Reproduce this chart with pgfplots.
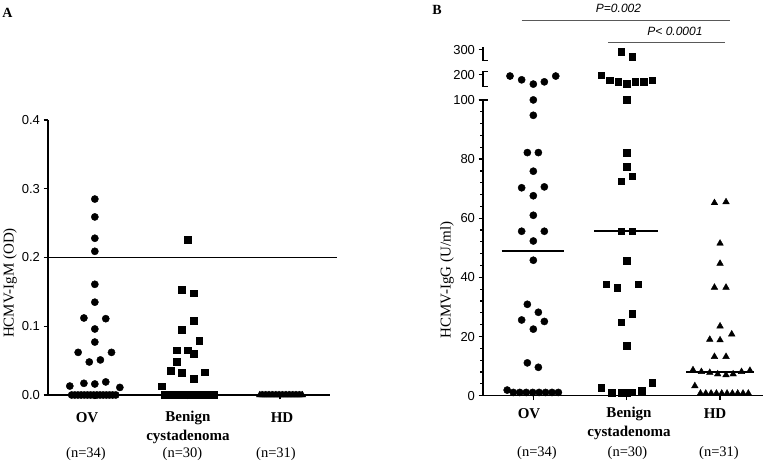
\documentclass[border=0pt]{standalone}
\usepackage{fontspec}
\setmainfont{Liberation Serif}
\setsansfont{Liberation Sans}
\usepackage{pgfplots}
\pgfplotsset{compat=1.18}

\newcommand{\tickfont}{\sffamily\fontsize{13}{13}\selectfont}
\newcommand{\catfont}{\rmfamily\bfseries\fontsize{15}{15}\selectfont}
\newcommand{\nfont}{\rmfamily\fontsize{14.5}{14.5}\selectfont}
\newcommand{\labfont}{\rmfamily\fontsize{15}{15}\selectfont}

\pgfplotsset{
  scat/.style={only marks, black, mark options={fill=black, draw=black}},
  panel/.style={
    scale only axis, anchor=south west, clip=false,
    axis x line*=bottom, axis y line*=left,
    axis line style={line width=1.6pt},
    tick align=outside, major tick length=4.5pt, minor tick length=3pt,
    tick style={black, line width=1.4pt},
    minor tick style={black, line width=1.2pt},
    xtick={1,2,3}, xticklabels={},
    yticklabel style={font=\tickfont},
  },
}

\begin{document}
\begin{tikzpicture}
\path[use as bounding box] (0,0) rectangle (769pt,462pt);

% ---------------- panel A: IgM
\begin{axis}[panel,
  at={(48pt,67pt)}, width=282pt, height=275pt,
  xmin=0.4946, xmax=3.538, ymin=0, ymax=0.4,
  ytick={0,0.1,0.2,0.3,0.4}, yticklabels={0.0,0.1,0.2,0.3,0.4},
]
\addplot[black, line width=1.1pt] coordinates {(0.4946,0.2) (3.613,0.2)};
% OV
\addplot[scat, mark=*, mark size=3.6pt] coordinates {
 (1,0.285) (1,0.259) (1,0.228) (1,0.209) (1,0.161) (1,0.135)
 (0.882,0.112) (1.118,0.111) (1,0.096) (1,0.077)
 (0.82,0.062) (1.06,0.051) (1.18,0.062) (0.94,0.048)
 (0.73,0.013) (0.882,0.017) (1,0.016) (1.118,0.019) (1.27,0.011)
 (0.750,0) (0.784,0) (0.818,0) (0.852,0) (0.886,0) (0.920,0) (0.954,0) (0.988,0)
 (1.022,0) (1.056,0) (1.090,0) (1.124,0) (1.158,0) (1.192,0) (1.226,0)};
% Benign cystadenoma
\addplot[scat, mark=square*, mark size=3.3pt] coordinates {
 (2,0.226) (1.94,0.153) (2.065,0.148) (2.065,0.108) (1.94,0.095) (2.125,0.079)
 (1.882,0.065) (2,0.065) (2.065,0.060) (1.882,0.048) (1.82,0.035) (1.94,0.032)
 (2.186,0.033) (2.065,0.024) (1.724,0.013)
 (1.750,0) (1.788,0) (1.826,0) (1.864,0) (1.902,0) (1.940,0) (1.978,0) (2.016,0)
 (2.054,0) (2.092,0) (2.130,0) (2.168,0) (2.206,0) (2.244,0) (2.282,0)};
% HD
\addplot[scat, mark=triangle*, mark size=3.8pt] coordinates {
 (2.780,0) (2.795,0) (2.811,0) (2.826,0) (2.841,0) (2.857,0) (2.872,0) (2.887,0)
 (2.903,0) (2.918,0) (2.933,0) (2.949,0) (2.964,0) (2.979,0) (2.995,0) (3.010,0)
 (3.025,0) (3.041,0) (3.056,0) (3.071,0) (3.087,0) (3.102,0) (3.117,0) (3.133,0)
 (3.148,0) (3.163,0) (3.179,0) (3.194,0) (3.209,0) (3.225,0) (3.240,0)};
\end{axis}

% ---------------- panel B: IgG (broken axis above 100)
\begin{axis}[panel,
  at={(483pt,66.3pt)}, width=280pt, height=349pt,
  xmin=0.461, xmax=3.46, ymin=0, ymax=118,
  y axis line style={draw=none},
  y filter/.expression={y>100 ? 100+(y-100)*0.085 : y},
  ytick={0,20,40,60,80,100,108.5,117},
  yticklabels={0,20,40,60,80,100,200,300},
  minor ytick={4,8,...,96},
]
% OV
\addplot[scat, mark=*, mark size=3.6pt] coordinates {
 (0.75,195) (0.875,180) (1,163) (1.118,172) (1.24,195)
 (1,100) (1,94.8) (0.936,82.2) (1.054,82.2) (1,75.9) (0.875,70.3) (1.118,70.6)
 (1,67.6) (1,61.0) (0.875,55.6) (1.118,55.6) (1,52.3) (1,45.8) (0.936,30.9)
 (1.054,28.2) (0.875,25.6) (1.118,25.1) (1,22.5) (0.936,11.1) (1.054,9.6) (0.72,1.9)
 (0.786,1.1) (0.855,1.1) (0.924,1.1) (0.993,1.1) (1.062,1.1) (1.131,1.1) (1.200,1.1) (1.268,1.1)};
% Benign cystadenoma
\addplot[scat, mark=square*, mark size=3.3pt] coordinates {
 (1.94,291) (2.06,271) (1.725,198) (1.82,178) (1.91,172) (2,165) (2.09,172) (2.18,172) (2.275,178)
 (2,100) (2,82.2) (2,77.4) (2.06,74.2) (1.94,72.5)
 (1.94,55.6) (2.06,55.6) (2,45.6) (1.78,37.7) (1.9,36.6) (2.125,37.7) (2.06,27.8)
 (1.94,24.8) (2,17.0)
 (1.725,2.8) (1.84,1.0) (1.94,1.0) (2.0,1.0) (2.06,1.2) (2.16,1.6) (2.275,4.4)};
% HD
\addplot[scat, mark=triangle*, mark size=3.8pt] coordinates {
 (2.94,65.2) (3.064,65.5) (3,51.5) (3,44.7) (2.94,36.6) (3.064,36.6) (3,23.5)
 (2.89,19.0) (3,18.8) (3.125,20.8) (2.94,13.2) (3.064,13.2)
 (2.71,8.7) (2.80,8.1) (2.89,7.8) (2.975,7.3) (3.064,7.0) (3.14,7.3) (3.23,8.1) (3.32,8.5)
 (2.73,3.3)
 (2.790,0.8) (2.847,0.8) (2.904,0.8) (2.961,0.8) (3.018,0.8) (3.075,0.8) (3.132,0.8)
 (3.189,0.8) (3.246,0.8) (3.303,0.8)};
% medians
\addplot[black, line width=1.8pt] coordinates {(0.66,49.0) (1.33,49.0)};
\addplot[black, line width=1.8pt] coordinates {(1.65,55.7) (2.33,55.7)};
\addplot[black, line width=1.8pt] coordinates {(2.64,8.1) (3.36,8.1)};
% y axis drawn by hand with the break marks
\draw[line width=1.6pt] (axis cs:0.461,0) -- (axis cs:0.461,100);
\draw[line width=1.4pt] ([xshift=-4.5pt]axis cs:0.461,100) -- ([xshift=4.5pt]axis cs:0.461,100);
\draw[line width=2.6pt] (axis cs:0.461,104.6) -- (axis cs:0.461,109.7);
\draw[line width=1.4pt] ([xshift=-1pt]axis cs:0.461,109.7) -- ([xshift=5pt]axis cs:0.461,109.7);
\draw[line width=1.4pt] ([xshift=-1pt]axis cs:0.461,104.6) -- ([xshift=5pt]axis cs:0.461,104.6);
\draw[line width=2.6pt] (axis cs:0.461,113.4) -- (axis cs:0.461,117.9);
\draw[line width=1.4pt] ([xshift=-1pt]axis cs:0.461,113.4) -- ([xshift=5pt]axis cs:0.461,113.4);
\end{axis}

% ---------------- text
\node[font=\rmfamily\bfseries\fontsize{14}{14}\selectfont] at (7.5pt,449.5pt) {A};
\node[font=\rmfamily\bfseries\fontsize{14}{14}\selectfont] at (437pt,452pt) {B};
\node[font=\labfont, rotate=90] at (10pt,179pt) {HCMV-IgM (OD)};
\node[font=\labfont, rotate=90] at (447pt,182pt) {HCMV-IgG (U/ml)};

\node[font=\catfont] at (87pt,44.5pt) {OV};
\node[font=\catfont] at (188pt,44.5pt) {Benign};
\node[font=\catfont] at (188pt,25.5pt) {cystadenoma};
\node[font=\catfont] at (282pt,44.5pt) {HD};
\node[font=\nfont] at (86pt,7.5pt) {(n=34)};
\node[font=\nfont] at (182.5pt,7.5pt) {(n=30)};
\node[font=\nfont] at (276pt,7.5pt) {(n=31)};

\node[font=\catfont] at (529pt,48pt) {OV};
\node[font=\catfont] at (629pt,48pt) {Benign};
\node[font=\catfont] at (629pt,29pt) {cystadenoma};
\node[font=\catfont] at (715pt,48pt) {HD};
\node[font=\nfont] at (537pt,9pt) {(n=34)};
\node[font=\nfont] at (627.5pt,9pt) {(n=30)};
\node[font=\nfont] at (719pt,9pt) {(n=31)};

\draw[black!65, line width=1.1pt] (521.7pt,441.3pt) -- (730pt,441.3pt);
\draw[black!65, line width=1.1pt] (608pt,419.3pt) -- (725pt,419.3pt);
\node[font=\sffamily\itshape\fontsize{12}{12}\selectfont] at (618.5pt,454pt) {P=0.002};
\node[font=\sffamily\itshape\fontsize{12}{12}\selectfont] at (675pt,431pt) {P< 0.0001};
\end{tikzpicture}
\end{document}
